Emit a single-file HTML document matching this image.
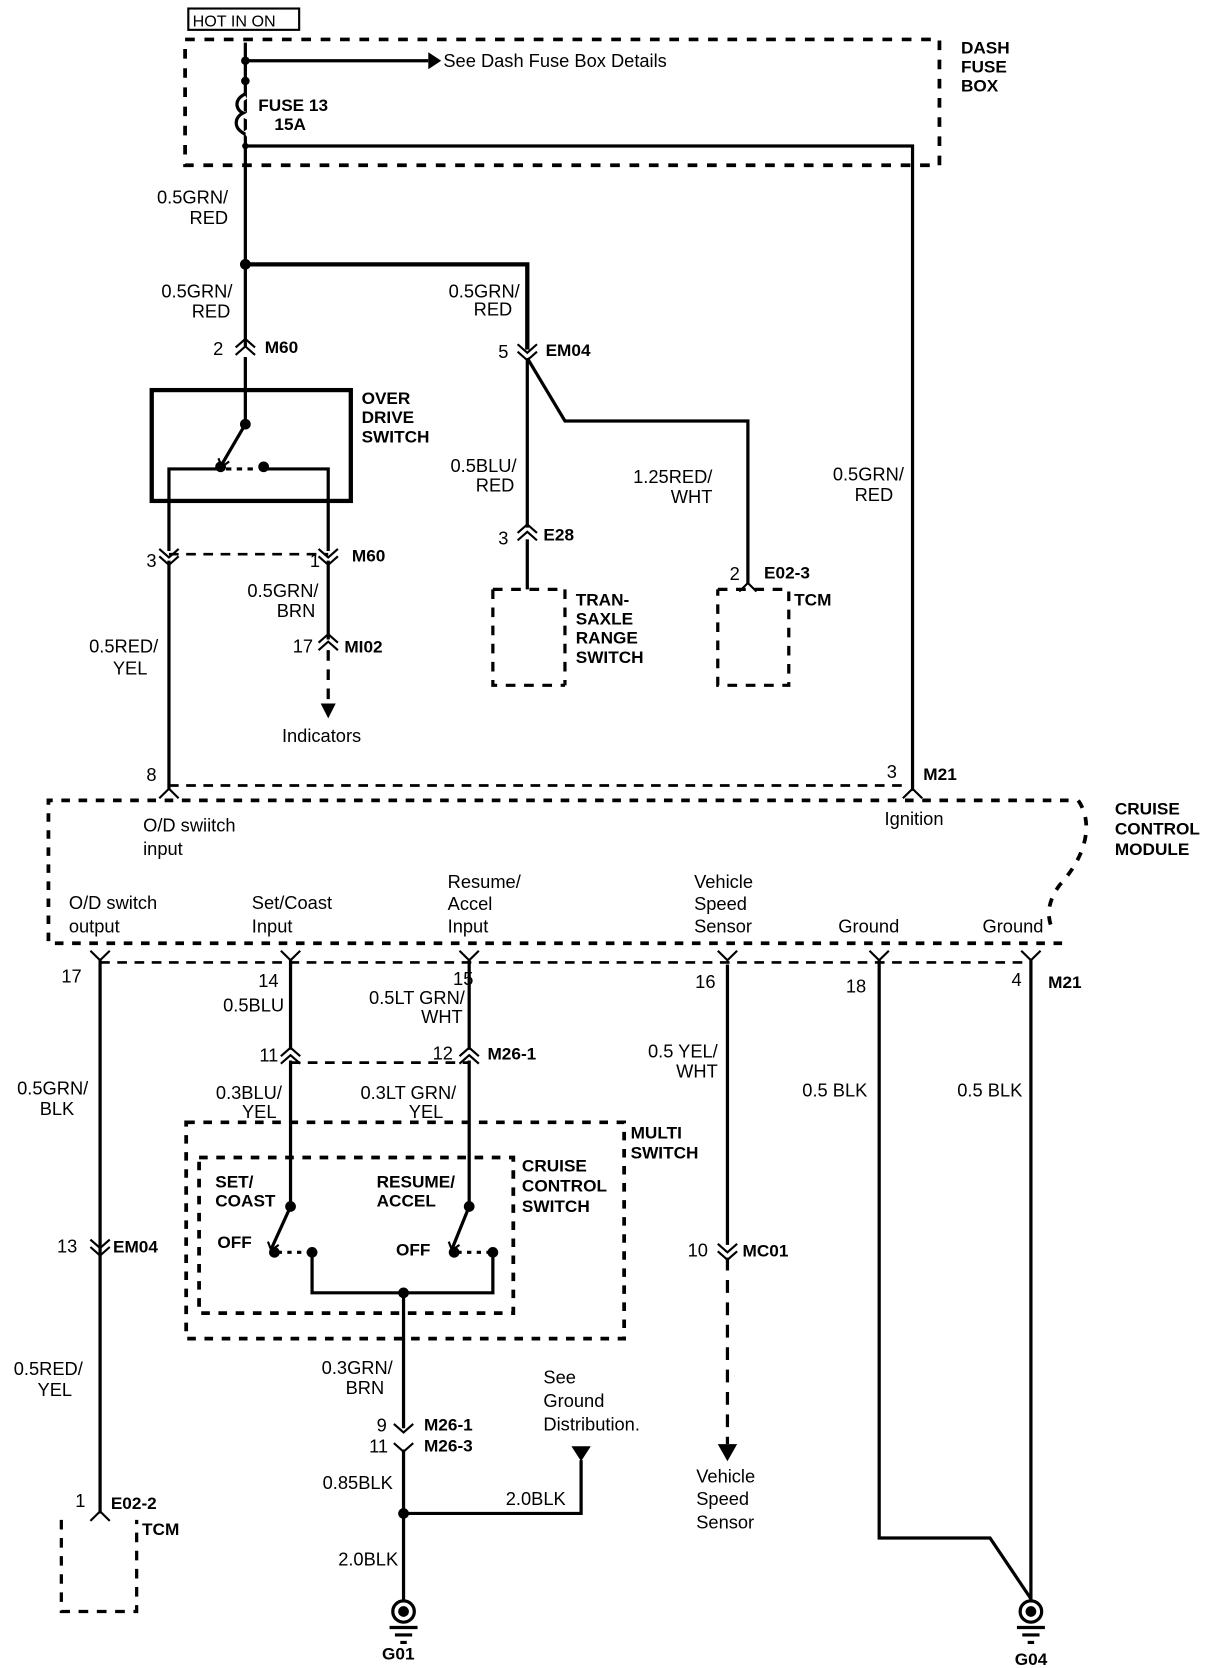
<!DOCTYPE html>
<html><head><meta charset="utf-8"><style>
html,body{margin:0;padding:0;background:#fff;}
svg{display:block;}
text{font-family:"Liberation Sans",Arial,sans-serif;font-size:17px;fill:#000;}
.b{font-weight:bold;font-size:16px;}
.r{text-anchor:end;}
</style></head><body>
<svg width="1216" height="1668" viewBox="0 0 1130 1565" preserveAspectRatio="none" xmlns="http://www.w3.org/2000/svg">
<g fill="none" stroke="#000" stroke-width="3">
<rect x="175" y="8" width="103" height="20" stroke-width="2"/>
<path d="M172 37 H873 V155 H172 V37" stroke-dasharray="9 9" stroke-width="3.5"/>
<path d="M228 40 V248"/>
<path d="M228 57 H398"/>
<path d="M228 137 H848 V742"/>
<path d="M228 90 C218 96,218 104,228 108 C238 112,238 120,228 126" stroke="#fff" stroke-width="6"/>
<path d="M228 88 C216 94,220 104,226 106 C218 110,216 120,228 126"/>
<path d="M228 248 H490 V328" stroke-width="4"/>
<path d="M228 248 V325"/>
<path d="M228 335 V398 L206 436"/>
<rect x="141" y="366" width="185" height="104" stroke-width="4"/>
<path d="M157 517 V440 H205"/>
<path d="M245 440 H305 V517"/>
<path d="M210 440 H240" stroke-dasharray="5 5"/>
<path d="M157 520 H305" stroke-dasharray="9 7" stroke-width="2.5"/>
<path d="M157 526 V740"/>
<path d="M305 526 V600"/>
<path d="M305 610 V660" stroke-dasharray="10 8"/>
<path d="M490 336 L525 395 H695 V548"/>
<path d="M490 336 V495"/>
<path d="M490 506 V553"/>
<path d="M458 553 H525 M458 553 V643 H525 M525 553 V643" stroke-dasharray="9 8"/>
<path d="M667 553 H733 V643 H667 V553" stroke-dasharray="9 8"/>
<path d="M157 737 H840" stroke-dasharray="9 7" stroke-width="2.5"/>
<path d="M993 751 H45 V885 H993" stroke-dasharray="8 8" stroke-width="3.5"/>
<path d="M1002 751 C1015 770,1012 800,985 830 C970 850,975 865,978 872" stroke-dasharray="8 9" stroke-width="3.5"/>
<path d="M93 903 H958" stroke-dasharray="9 7" stroke-width="2.5"/>
<path d="M93 900 V1420"/>
<path d="M270 900 V985"/>
<path d="M270 995 V1132 L252 1172"/>
<path d="M436 900 V985"/>
<path d="M436 995 V1132 L420 1172"/>
<path d="M270 997 H436" stroke-dasharray="9 7" stroke-width="2.5"/>
<path d="M676 905 V1168"/>
<path d="M676 1180 V1355" stroke-dasharray="12 9"/>
<path d="M817 900 V1443 H920 L958 1500"/>
<path d="M958 900 V1502"/>
<path d="M173 1053 H580 V1256 H173 Z" stroke-dasharray="8 8" stroke-width="3.5"/>
<path d="M185 1086 H477 V1232 H185 Z" stroke-dasharray="8 8" stroke-width="3.5"/>
<path d="M258 1175 H288" stroke-dasharray="4 5"/>
<path d="M425 1175 H456" stroke-dasharray="4 5"/>
<path d="M290 1175 V1213 H458 V1175"/>
<path d="M375 1213 V1340"/>
<path d="M375 1360 V1502"/>
<path d="M375 1420 H540 V1370"/>
<path d="M57 1426 V1512 H127 V1426" stroke-dasharray="9 8"/>
<circle cx="375" cy="1512" r="10"/>
<circle cx="958" cy="1512" r="10"/>
<path d="M362 1527 H388 M367 1534 H383 M372 1541 H378"/>
<path d="M945 1527 H971 M950 1534 H966 M955 1541 H961"/>
<path d="M219 326 L228 318 L237 326 M219 333 L228 325 L237 333" stroke-width="2"/>
<path d="M481 500 L490 492 L499 500 M481 507 L490 499 L499 507" stroke-width="2"/>
<path d="M296 603 L305 595 L314 603 M296 610 L305 602 L314 610" stroke-width="2"/>
<path d="M261 991 L270 983 L279 991 M261 998 L270 990 L279 998" stroke-width="2"/>
<path d="M427 991 L436 983 L445 991 M427 998 L436 990 L445 998" stroke-width="2"/>
<path d="M687 555 L695 547 L703 555" stroke-width="2"/>
<path d="M148 749 L157 740 L166 749" stroke-width="2"/>
<path d="M839 749 L848 740 L857 749" stroke-width="2"/>
<path d="M84 1427 L93 1418 L102 1427" stroke-width="2"/>
<path d="M481 323 L490 331 L499 323 M481 330 L490 338 L499 330" stroke-width="2"/>
<path d="M148 515 L157 523 L166 515 M148 522 L157 530 L166 522" stroke-width="2"/>
<path d="M296 515 L305 523 L314 515 M296 522 L305 530 L314 522" stroke-width="2"/>
<path d="M84 1163 L93 1171 L102 1163 M84 1170 L93 1178 L102 1170" stroke-width="2"/>
<path d="M667 1167 L676 1175 L685 1167 M667 1174 L676 1182 L685 1174" stroke-width="2"/>
<path d="M366 1336 L375 1344 L384 1336 M366 1354 L375 1362 L384 1354" stroke-width="2"/>
<path d="M84 892 L93 901 L102 892 M261 892 L270 901 L279 892 M427 892 L436 901 L445 892 M667 892 L676 901 L685 892 M808 892 L817 901 L826 892 M949 892 L958 901 L967 892" stroke-width="2"/>
<path d="M203 430 L206 438 L213 433" stroke-width="2"/>
<path d="M249 1165 L252 1173 L259 1168" stroke-width="2"/>
<path d="M417 1165 L420 1173 L427 1168" stroke-width="2"/>
</g>
<g fill="#000">
<circle cx="228" cy="57" r="4"/><circle cx="228" cy="76" r="4"/><circle cx="228" cy="137" r="3"/>
<circle cx="228" cy="248" r="5"/>
<circle cx="228" cy="398" r="5"/><circle cx="205" cy="438" r="5"/><circle cx="245" cy="438" r="5"/>
<circle cx="270" cy="1132" r="5"/><circle cx="255" cy="1175" r="5"/><circle cx="290" cy="1175" r="5"/>
<circle cx="436" cy="1132" r="5"/><circle cx="422" cy="1175" r="5"/><circle cx="458" cy="1175" r="5"/>
<circle cx="375" cy="1213" r="5"/><circle cx="375" cy="1420" r="5"/>
<circle cx="375" cy="1512" r="5"/><circle cx="958" cy="1512" r="5"/>
<path d="M398 49 L410 57 L398 65 Z"/>
<path d="M298 660 L312 660 L305 674 Z"/>
<path d="M531 1357 L549 1357 L540 1371 Z"/>
<path d="M667 1355 L685 1355 L676 1371 Z"/>
</g>
<text x="179" y="25" style="font-size:15px">HOT IN ON</text>
<text x="412" y="63">See Dash Fuse Box Details</text>
<text class="b" x="893" y="50">DASH</text><text class="b" x="893" y="68">FUSE</text><text class="b" x="893" y="86">BOX</text>
<text class="b" x="240" y="104">FUSE 13</text><text class="b" x="255" y="122">15A</text>
<text class="r" x="212" y="191">0.5GRN/</text><text class="r" x="212" y="210">RED</text>
<text class="r" x="216" y="279">0.5GRN/</text><text class="r" x="214" y="298">RED</text>
<text class="r" x="483" y="279">0.5GRN/</text><text class="r" x="476" y="296">RED</text>
<text x="198" y="333">2</text><text class="b" x="246" y="331">M60</text>
<text x="463" y="336">5</text><text class="b" x="507" y="334">EM04</text>
<text class="b" x="336" y="379">OVER</text><text class="b" x="336" y="397">DRIVE</text><text class="b" x="336" y="415">SWITCH</text>
<text class="r" x="480" y="443">0.5BLU/</text><text class="r" x="478" y="461">RED</text>
<text class="r" x="662" y="453">1.25RED/</text><text class="r" x="662" y="472">WHT</text>
<text class="r" x="840" y="451">0.5GRN/</text><text class="r" x="830" y="470">RED</text>
<text x="463" y="511">3</text><text class="b" x="505" y="507">E28</text>
<text x="678" y="544">2</text><text class="b" x="710" y="543">E02-3</text>
<text class="b" x="738" y="568">TCM</text>
<text class="b" x="535" y="568">TRAN-</text><text class="b" x="535" y="586">SAXLE</text><text class="b" x="535" y="604">RANGE</text><text class="b" x="535" y="622">SWITCH</text>
<text x="136" y="532">3</text><text x="288" y="532">1</text><text class="b" x="327" y="527">M60</text>
<text class="r" x="296" y="560">0.5GRN/</text><text class="r" x="293" y="579">BRN</text>
<text x="272" y="612">17</text><text class="b" x="320" y="612">MI02</text>
<text class="r" x="147" y="612">0.5RED/</text><text class="r" x="137" y="633">YEL</text>
<text x="262" y="696">Indicators</text>
<text x="136" y="733">8</text><text x="824" y="730">3</text><text class="b" x="858" y="732">M21</text>
<text class="b" x="1036" y="764">CRUISE</text><text class="b" x="1036" y="783">CONTROL</text><text class="b" x="1036" y="802">MODULE</text>
<text x="133" y="780">O/D swiitch</text><text x="133" y="802">input</text>
<text x="822" y="774">Ignition</text>
<text x="64" y="853">O/D  switch</text><text x="64" y="875">output</text>
<text x="234" y="853">Set/Coast</text><text x="234" y="875">Input</text>
<text x="416" y="833">Resume/</text><text x="416" y="854">Accel</text><text x="416" y="875">Input</text>
<text x="645" y="833">Vehicle</text><text x="645" y="854">Speed</text><text x="645" y="875">Sensor</text>
<text x="779" y="875">Ground</text><text x="913" y="875">Ground</text>
<text x="57" y="922">17</text><text x="240" y="926">14</text><text x="421" y="924">15</text><text x="646" y="927">16</text><text x="786" y="931">18</text><text x="940" y="925">4</text><text class="b" x="974" y="927">M21</text>
<text class="r" x="264" y="949">0.5BLU</text>
<text class="r" x="432" y="942">0.5LT GRN/</text><text class="r" x="430" y="960">WHT</text>
<text x="241" y="996">11</text><text x="402" y="994">12</text><text class="b" x="453" y="994">M26-1</text>
<text class="r" x="667" y="992">0.5 YEL/</text><text class="r" x="667" y="1011">WHT</text>
<text class="r" x="82" y="1027">0.5GRN/</text><text class="r" x="69" y="1046">BLK</text>
<text class="r" x="806" y="1029">0.5 BLK</text><text class="r" x="950" y="1029">0.5 BLK</text>
<text class="r" x="262" y="1031">0.3BLU/</text><text class="r" x="257" y="1049">YEL</text>
<text class="r" x="424" y="1031">0.3LT GRN/</text><text class="r" x="412" y="1049">YEL</text>
<text class="b" x="586" y="1068">MULTI</text><text class="b" x="586" y="1087">SWITCH</text>
<text class="b" x="485" y="1099">CRUISE</text><text class="b" x="485" y="1118">CONTROL</text><text class="b" x="485" y="1137">SWITCH</text>
<text class="b" x="200" y="1114">SET/</text><text class="b" x="200" y="1132">COAST</text>
<text class="b" x="350" y="1114">RESUME/</text><text class="b" x="350" y="1132">ACCEL</text>
<text class="b" x="202" y="1171">OFF</text><text class="b" x="368" y="1178">OFF</text>
<text x="53" y="1175">13</text><text class="b" x="105" y="1175">EM04</text>
<text x="639" y="1179">10</text><text class="b" x="690" y="1179">MC01</text>
<text class="r" x="365" y="1289">0.3GRN/</text><text class="r" x="357" y="1308">BRN</text>
<text class="r" x="77" y="1290">0.5RED/</text><text class="r" x="67" y="1310">YEL</text>
<text x="505" y="1298">See</text><text x="505" y="1320">Ground</text><text x="505" y="1342">Distribution.</text>
<text x="350" y="1343">9</text><text x="343" y="1363">11</text><text class="b" x="394" y="1342">M26-1</text><text class="b" x="394" y="1362">M26-3</text>
<text class="r" x="365" y="1397">0.85BLK</text><text x="470" y="1412">2.0BLK</text><text class="r" x="370" y="1469">2.0BLK</text>
<text x="647" y="1391">Vehicle</text><text x="647" y="1412">Speed</text><text x="647" y="1434">Sensor</text>
<text x="70" y="1414">1</text><text class="b" x="103" y="1416">E02-2</text><text class="b" x="132" y="1440">TCM</text>
<text class="b" x="355" y="1557">G01</text><text class="b" x="943" y="1562">G04</text>
</svg>
</body></html>
